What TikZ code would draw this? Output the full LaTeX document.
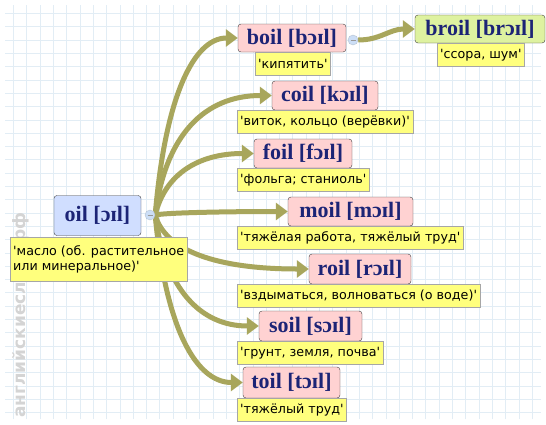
\documentclass[tikz,border=0pt]{standalone}
\usepackage{fontspec}
\setmainfont{DejaVu Sans}
\newfontfamily\wordfont{Liberation Serif}
\newfontfamily\glossfont{DejaVu Sans}[Ligatures=TeXOff]
\usetikzlibrary{arrows.meta,backgrounds,calc}
\definecolor{linkolive}{RGB}{168,166,92}
\definecolor{wordink}{RGB}{28,36,118}
\definecolor{wordpink}{RGB}{255,210,210}
\definecolor{wordblue}{RGB}{208,222,255}
\definecolor{wordgreen}{RGB}{222,242,160}
\definecolor{glossyellow}{RGB}{255,255,125}
\definecolor{gridblue}{RGB}{226,237,245}
\definecolor{knobblue}{RGB}{204,222,246}

\begin{document}
\begin{tikzpicture}[
    x=1pt, y=-1pt,
    word/.style={draw=black!75, rounded corners=3pt, fill=wordpink, text=wordink, font=\wordfont\bfseries\fontsize{22}{22}\selectfont, inner sep=0pt},
    root/.style={word, fill=wordblue},
    leaf/.style={word, fill=wordgreen},
    gloss/.style={draw=black!35, fill=glossyellow, font=\glossfont\fontsize{12.7}{15}\selectfont, inner xsep=3pt, inner ysep=0pt, minimum height=23pt, anchor=north west, align=left},
    link/.style={draw=linkolive, line width=5pt, -{Triangle[length=12pt,width=17pt]}},
    knob/.style={circle, draw=knobblue!70!gray, fill=knobblue, minimum size=10pt, inner sep=0pt},
    knobdash/.style={draw=black!40, line width=1pt}
]
\useasboundingbox (0,0) rectangle (546,424);
\begin{scope}[on background layer]
  \fill[white] (0,0) rectangle (546,424);
  \draw[gridblue, step=13.3pt] (5,5) grid (541,419);
\end{scope}
\node[rotate=90, text=black!17, font=\bfseries\fontsize{17}{17}\selectfont] (mark) at (21,315) {английскиеслова.рф};

\node[root, minimum width=87pt, minimum height=40pt] (oil) at (97.5,215.5) {oil [ɔɪl]};
\node[gloss, minimum height=44pt] (oilgloss) at (10,237) {'масло (об. растительное\\или минеральное)'};
\node[knob] (oilknob) at (150,215) {};

\node[word, minimum width=108pt, minimum height=28pt] (boil) at (292,38) {boil [bɔɪl]};
\node[gloss] (boilgloss) at (255,52) {'кипятить'};
\node[knob] (boilknob) at (353,40) {};
\node[leaf, minimum width=130pt, minimum height=28pt] (broil) at (480,29) {broil [brɔɪl]};
\node[gloss] (broilgloss) at (437,43) {'ссора, шум'};

\node[word, minimum width=106pt, minimum height=29pt] (coil) at (325,95.5) {coil [kɔɪl]};
\node[gloss] (coilgloss) at (237,110) {'виток, кольцо (верёвки)'};
\node[word, minimum width=98pt, minimum height=29pt] (foil) at (303,153.5) {foil [fɔɪl]};
\node[gloss] (foilgloss) at (237,168) {'фольга; станиоль'};
\node[word, minimum width=125pt, minimum height=29pt] (moil) at (350.5,211.5) {moil [mɔɪl]};
\node[gloss] (moilgloss) at (237,226) {'тяжёлая работа, тяжёлый труд'};
\node[word, minimum width=102pt, minimum height=30pt] (roil) at (360,269) {roil [rɔɪl]};
\node[gloss] (roilgloss) at (237,284) {'вздыматься, волноваться (о воде)'};
\node[word, minimum width=103pt, minimum height=30pt] (soil) at (310.5,326) {soil [sɔɪl]};
\node[gloss] (soilgloss) at (237,341) {'грунт, земля, почва'};
\node[word, minimum width=97pt, minimum height=31pt] (toil) at (291.5,382.5) {toil [tɔɪl]};
\node[gloss] (toilgloss) at (237,398) {'тяжёлый труд'};

\draw[knobdash] ([xshift=-2.5pt]oilknob.center) -- ([xshift=2.5pt]oilknob.center);
\draw[knobdash] ([xshift=-2.5pt]boilknob.center) -- ([xshift=2.5pt]boilknob.center);

\begin{scope}[on background layer]
  \foreach \w/\c in {boil/44, coil/67, foil/55, moil/60, roil/91, soil/58, toil/47}
    \draw[link] (oilknob.east) .. controls ($(oilknob.east)!0.67!(oilknob.east |- \w.west) + (10,0)$) and +(-\c,0) .. (\w.west);
  \draw[link] (boilknob.east) .. controls +(22,0) and +(-25,0) .. (broil.west);
\end{scope}
\end{tikzpicture}
\end{document}
